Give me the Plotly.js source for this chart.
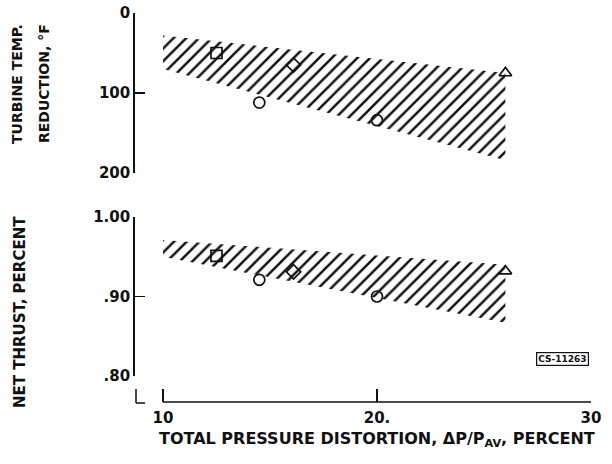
<!DOCTYPE html>
<html>
<head>
<meta charset="utf-8">
<script src="https://cdn.plot.ly/plotly-3.0.1.min.js"></script>
<style>html,body{margin:0;padding:0;background:#fff;}#chart{width:612px;height:464px;}</style>
</head>
<body>
<div id="chart"></div>
<script>
// Data
const pressureDistortion = [12.5, 14.5, 16.1, 20.0, 26.0];
const tempReduction = [50, 112, 65, 134, 75];
const netThrust = [0.951, 0.921, 0.931, 0.900, 0.932];
const pointSymbols = ['square-open', 'circle-open', 'diamond-open', 'circle-open', 'triangle-up-open'];

const bandX = [10, 26];
const tempBandUpper = [28, 75];
const tempBandLower = [70, 184];
const thrustBandUpper = [0.971, 0.940];
const thrustBandLower = [0.950, 0.867];

const xTickVals = [10, 20, 30];
const xTickText = ['10', '20.', '30'];
const tempTickVals = [0, 100, 200];
const thrustTickVals = [0.8, 0.9, 1.0];
const thrustTickText = ['.80', '.90', '1.00'];

const W = 612, H = 464;
const px = v => v / W;
const py = v => 1 - v / H;
const ink = '#111';
const FONT = 'DejaVu Sans';

function band(upper, lower, yaxis) {
  return {
    type: 'scatter', mode: 'lines', xaxis: 'x', yaxis: yaxis,
    x: [bandX[0], bandX[1], bandX[1], bandX[0], bandX[0]],
    y: [upper[0], upper[1], lower[1], lower[0], upper[0]],
    fill: 'toself', fillcolor: 'rgba(0,0,0,0)',
    fillpattern: {shape: '/', size: 9, solidity: 0.28, fgcolor: ink, bgcolor: 'rgba(0,0,0,0)'},
    line: {width: 0, color: 'rgba(0,0,0,0)'}, hoverinfo: 'skip', showlegend: false
  };
}
function pts(y, yaxis) {
  return {
    type: 'scatter', mode: 'markers', xaxis: 'x', yaxis: yaxis,
    x: pressureDistortion, y: y,
    marker: {symbol: pointSymbols, size: 11, color: ink, line: {width: 1.7, color: ink}},
    showlegend: false
  };
}

const data = [
  band(tempBandUpper, tempBandLower, 'y'),
  band(thrustBandUpper, thrustBandLower, 'y2'),
  pts(tempReduction, 'y'),
  pts(netThrust, 'y2')
];

const tickFont = {family: FONT, size: 15, color: ink, weight: 'bold'};
const yTitleFont = {family: FONT, size: 14, color: ink, weight: 'bold'};

const layout = {
  width: W, height: H,
  margin: {l: 0, r: 0, t: 0, b: 0},
  paper_bgcolor: '#fff', plot_bgcolor: 'rgba(0,0,0,0)',
  showlegend: false,
  xaxis: {
    domain: [px(135), px(591)], range: [10 - 28 / 21.4, 30],
    anchor: 'free', position: py(402),
    showline: false, showgrid: false, zeroline: false,
    tickmode: 'array', tickvals: xTickVals, ticktext: xTickText,
    ticks: 'inside', ticklen: 13, tickwidth: 1.5, tickcolor: ink,
    ticklabelstandoff: 5,
    tickfont: tickFont
  },
  yaxis: {
    domain: [py(173), py(13)], range: [200, 0], anchor: 'x',
    showline: true, linecolor: ink, linewidth: 1.8,
    showgrid: false, zeroline: false,
    tickmode: 'array', tickvals: tempTickVals,
    ticks: 'inside', ticklen: 10, tickwidth: 1.5, tickcolor: ink,
    tickfont: tickFont
  },
  yaxis2: {
    domain: [py(376), py(217)], range: [0.8, 1.0], anchor: 'x',
    showline: true, linecolor: ink, linewidth: 1.8,
    showgrid: false, zeroline: false,
    tickmode: 'array', tickvals: thrustTickVals, ticktext: thrustTickText,
    ticks: 'inside', ticklen: 10, tickwidth: 1.5, tickcolor: ink,
    tickfont: tickFont
  },
  shapes: [
    {type: 'line', xref: 'x', yref: 'paper', x0: 10, x1: 30, y0: py(402), y1: py(402), line: {color: ink, width: 1.5}},
    {type: 'line', xref: 'paper', yref: 'paper', x0: px(136), x1: px(136), y0: py(389), y1: py(403), line: {color: ink, width: 1.5}},
    {type: 'line', xref: 'paper', yref: 'paper', x0: px(136), x1: px(145), y0: py(403), y1: py(403), line: {color: ink, width: 1.5}}
  ],
  annotations: [
    {xref: 'paper', yref: 'paper', x: px(17), y: py(84), text: 'TURBINE TEMP.', textangle: -90, showarrow: false, font: yTitleFont, xanchor: 'center', yanchor: 'middle'},
    {xref: 'paper', yref: 'paper', x: px(44), y: py(84), text: 'REDUCTION, °F', textangle: -90, showarrow: false, font: yTitleFont, xanchor: 'center', yanchor: 'middle'},
    {xref: 'paper', yref: 'paper', x: px(20), y: py(312), text: 'NET THRUST, PERCENT', textangle: -90, showarrow: false, font: {family: FONT, size: 15, color: ink, weight: 'bold'}, xanchor: 'center', yanchor: 'middle'},
    {xref: 'paper', yref: 'paper', x: px(377), y: py(439), text: 'TOTAL PRESSURE DISTORTION, ΔP/P<sub>AV</sub>, PERCENT', showarrow: false, font: {family: FONT, size: 16, color: ink, weight: 'bold'}, xanchor: 'center', yanchor: 'middle'},
    {xref: 'paper', yref: 'paper', x: px(562), y: py(359), text: 'CS-11263', showarrow: false, font: {family: FONT, size: 9, color: ink, weight: 'bold'}, bordercolor: ink, borderwidth: 1.2, borderpad: 1, xanchor: 'center', yanchor: 'middle'}
  ]
};

Plotly.newPlot('chart', data, layout, {displayModeBar: false, staticPlot: true});
</script>
</body>
</html>
